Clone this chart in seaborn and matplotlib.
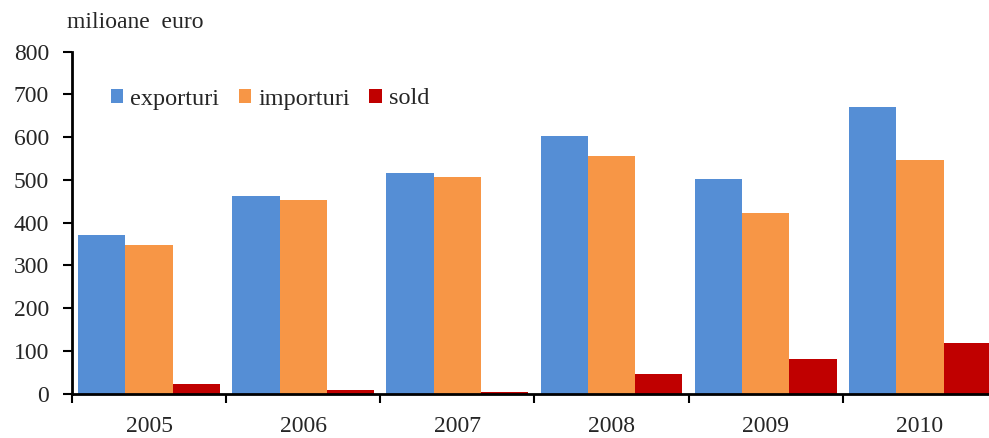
import numpy as np
import pandas as pd
import matplotlib.pyplot as plt
import seaborn as sns
from matplotlib.patches import Patch

years = ['2005', '2006', '2007', '2008', '2009', '2010']
exporturi = [370, 462, 515, 603, 501, 670]
importuri = [348, 453, 506, 555, 422, 546]
sold = [22, 9, 4, 45, 80, 119]

series = ['exporturi', 'importuri', 'sold']
colors = ['#558ED5', '#F79646', '#C00000']

df = pd.DataFrame({
    'an': years * 3,
    'valoare': exporturi + importuri + sold,
    'serie': [s for s in series for _ in years],
})

sns.set_theme(style='white')
plt.rcParams['font.family'] = ['Liberation Serif', 'DejaVu Serif']

fig = plt.figure(figsize=(9.89, 4.38), dpi=100)
# axes runs slightly past the right edge, as in the original
ax = fig.add_axes([72 / 989, 1 - 393.5 / 438, 925 / 989, (393.5 - 51.7) / 438])

sns.barplot(data=df, x='an', y='valoare', hue='serie', palette=colors,
            width=0.92, saturation=1, linewidth=0, ax=ax, legend=False)

ax.set_xlim(-0.5, len(years) - 0.5)
ax.set_ylim(0, 800)
ax.set_yticks(np.arange(0, 801, 100))
ax.set_xlabel('')
ax.set_ylabel('')
ax.tick_params(axis='y', labelsize=17, length=6.5, width=1.5, direction='out',
               left=True, color='black', pad=10)
ax.tick_params(axis='x', which='major', labelsize=17, length=0, pad=16)
ax.set_xticks(np.arange(-0.5, len(years) + 0.5, 1), minor=True)
ax.tick_params(axis='x', which='minor', length=6.5, width=1.5, direction='out',
               bottom=True, color='black')
for s in ['top', 'right']:
    ax.spines[s].set_visible(False)
for s in ['left', 'bottom']:
    ax.spines[s].set_color('black')
    ax.spines[s].set_linewidth(2)

handles = [Patch(facecolor=c, edgecolor='none') for c in colors]
fig.legend(handles, series, loc='center left', bbox_to_anchor=(111 / 989, 1 - 99 / 438),
           ncol=3, frameon=False, fontsize=17.5, handlelength=0.5, handleheight=0.5,
           handletextpad=0.3, columnspacing=0.8, borderpad=0, borderaxespad=0)

fig.text(67 / 989, 1 - 22 / 438, 'milioane  euro', fontsize=17, va='center', ha='left')

plt.savefig('out.png', dpi=100)
